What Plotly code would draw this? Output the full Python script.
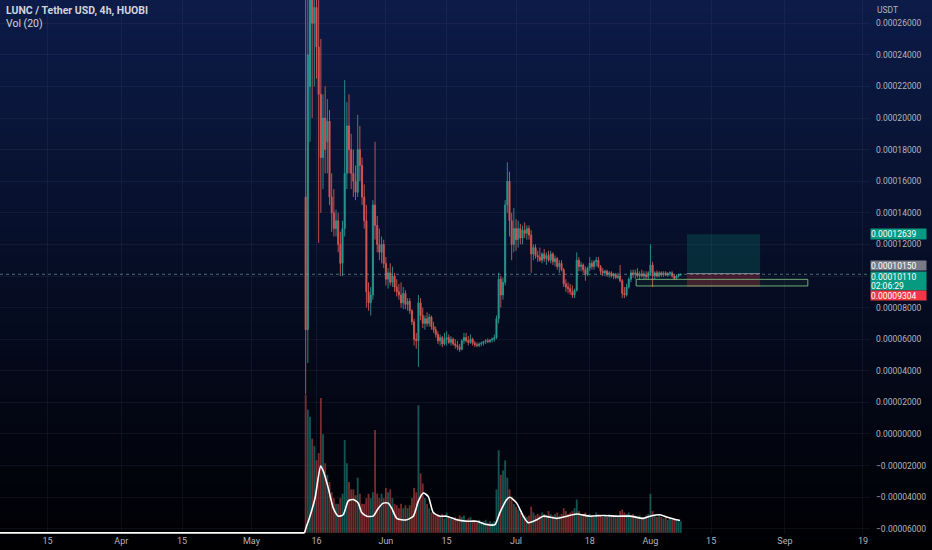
import plotly.graph_objects as go
import pandas as pd

# ---------------- data (prices in units of 1e-5 USDT) ----------------
start = "2022-05-13 12:00"   # first 12h candle
open_ = [15.0,6.6,22.0,28.0,26.0,27.0,24.5,21.5,17.5,20.0,
         18.5,19.8,15.0,14.0,13.0,13.5,12.0,10.8,13.0,16.5,
         19.5,18.0,16.5,16.0,15.3,18.0,17.0,15.0,13.5,9.0,
         8.3,8.8,14.5,13.2,12.0,11.5,12.0,10.8,9.8,10.2,
         9.6,10.0,9.3,9.0,8.8,8.3,8.9,8.2,8.4,7.8,
         7.1,6.0,5.9,8.3,7.5,7.0,7.3,7.0,7.4,6.8,
         6.6,6.3,5.9,6.1,5.7,6.0,6.1,5.8,6.0,5.7,
         5.6,5.5,5.35,5.9,6.1,5.9,5.8,6.0,5.75,5.65,
         5.6,5.7,5.75,5.85,5.9,5.85,5.95,6.0,6.1,7.3,
         9.8,8.8,9.6,14.5,16.0,13.5,12.0,13.0,12.3,13.0,
         12.4,12.9,12.7,13.0,12.6,11.4,11.8,11.3,11.2,11.0,
         11.4,11.1,11.3,11.0,11.4,10.9,11.1,10.6,10.8,10.4,
         9.5,9.3,9.2,9.0,8.8,9.1,11.0,10.6,10.7,10.4,
         10.1,10.5,10.8,10.6,10.9,11.0,10.6,10.3,10.2,10.3,
         10.1,10.2,10.0,10.1,9.9,10.0,9.7,8.9,8.8,9.3,
         9.8,10.2,10.1,10.2,10.0,10.15,10.0,10.1,9.95,10.2,
         10.7,10.0,10.2,10.0,10.2,10.1,10.2,10.05,10.15,10.2,
         10.0,9.85,10.0,10.1]
high_ = [33.8,35.0,36.0,38.0,34.0,33.0,28.0,25.0,21.5,22.0,
         21.2,20.5,16.5,15.5,14.2,14.0,12.8,13.5,22.4,21.0,
         21.5,19.0,18.0,17.0,20.2,19.5,17.5,15.8,14.5,9.6,
         9.3,14.8,18.5,13.8,13.0,12.5,12.3,11.2,10.5,10.8,
         10.6,10.2,9.8,9.5,9.6,9.3,9.1,8.6,8.6,7.9,
         7.3,6.4,8.8,8.6,8.0,7.5,7.7,7.6,7.5,7.1,
         6.8,6.5,6.3,6.2,6.4,6.5,6.3,6.2,6.1,6.0,
         5.9,5.7,6.0,6.4,6.4,6.2,6.3,6.1,5.9,5.8,
         5.8,5.85,5.9,6.0,6.05,6.0,6.1,6.3,7.5,10.2,
         10.0,9.9,14.8,17.2,16.6,14.0,14.3,13.6,13.5,13.3,
         13.2,13.4,13.2,13.2,12.9,12.0,12.0,11.6,11.8,11.5,
         11.7,11.5,11.6,11.6,11.5,11.3,11.2,11.0,11.0,10.5,
         9.8,9.6,9.5,9.4,9.2,11.5,11.2,10.9,10.8,10.6,
         10.6,11.2,11.0,11.0,11.2,11.2,10.7,10.5,10.4,10.4,
         10.3,10.3,10.2,10.2,10.2,10.7,9.8,9.3,9.5,9.9,
         10.4,10.4,10.4,10.5,10.3,10.4,10.3,10.3,10.3,12.0,
         10.9,10.3,10.35,10.3,10.3,10.3,10.3,10.25,10.3,10.3,
         10.1,10.1,10.15,10.15]
low_ = [2.5,4.5,18.5,20.0,22.0,22.5,12.1,14.0,15.5,16.5,
        16.5,14.5,12.8,12.5,12.5,11.5,10.0,10.0,12.5,15.5,
        16.5,15.5,15.0,14.8,15.0,16.0,14.5,13.0,8.0,7.8,
        7.5,8.5,12.3,11.5,11.0,10.8,10.5,9.4,9.2,9.4,
        9.3,9.0,8.7,8.5,8.0,7.9,7.9,7.8,7.6,6.9,
        5.6,5.4,4.25,7.2,6.7,6.6,6.8,6.8,6.6,6.4,
        6.1,5.7,5.6,5.5,5.6,5.6,5.7,5.6,5.6,5.4,
        5.3,5.2,5.3,5.7,5.8,5.6,5.7,5.6,5.5,5.5,
        5.5,5.55,5.6,5.7,5.75,5.75,5.8,5.85,6.0,7.0,
        8.0,8.5,9.4,14.0,12.5,11.0,11.5,11.6,11.8,12.0,
        12.0,12.4,12.3,12.3,10.2,11.0,11.1,10.9,10.9,10.8,
        10.9,10.7,10.9,10.8,10.7,10.6,10.4,10.2,10.3,9.3,
        9.0,8.9,8.8,8.6,8.6,9.0,10.3,10.3,10.2,9.7,
        10.0,10.3,10.4,10.4,10.6,10.5,10.1,10.0,10.0,9.95,
        9.9,9.9,9.8,9.8,9.8,9.6,8.6,8.6,8.7,9.2,
        9.6,9.9,9.8,9.9,9.8,9.9,9.8,9.8,9.8,10.0,
        9.3,9.8,9.9,9.9,9.95,9.95,10.0,9.95,10.0,9.9,
        9.75,9.8,9.9,10.0]
close_ = [6.6,24.0,28.0,26.0,27.0,24.5,21.5,17.5,20.0,18.0,
          19.8,15.0,14.0,13.0,13.5,12.0,10.8,13.0,16.5,19.5,
          18.0,16.5,16.0,15.3,18.0,17.0,15.0,13.5,9.0,8.3,
          8.8,14.5,13.2,12.0,11.5,12.0,10.8,9.8,10.2,9.6,
          10.0,9.3,9.0,8.8,8.3,8.9,8.2,8.4,7.8,7.1,
          6.0,5.9,8.3,7.5,7.0,7.3,7.0,7.4,6.8,6.6,
          6.3,5.9,6.1,5.7,6.0,6.1,5.8,6.0,5.7,5.6,
          5.5,5.35,5.9,6.1,5.9,5.8,6.0,5.75,5.65,5.6,
          5.7,5.75,5.85,5.9,5.85,5.95,6.0,6.1,7.3,9.8,
          8.8,9.6,14.5,16.0,13.5,12.0,13.0,12.3,13.0,12.4,
          12.9,12.7,13.0,12.6,11.4,11.8,11.3,11.2,11.0,11.4,
          11.1,11.3,11.0,11.4,10.9,11.1,10.6,10.8,10.4,9.5,
          9.3,9.2,9.0,8.8,9.1,11.0,10.6,10.7,10.4,10.1,
          10.5,10.8,10.6,10.9,11.0,10.6,10.3,10.2,10.3,10.1,
          10.2,10.0,10.1,9.9,10.0,9.7,8.9,8.8,9.3,9.8,
          10.2,10.1,10.2,10.0,10.15,10.0,10.1,9.95,10.2,10.7,
          10.0,10.2,10.0,10.2,10.1,10.2,10.05,10.15,10.2,10.0,
          9.85,10.0,10.1,10.11]
volume = [0.95,0.85,0.8,0.65,0.6,0.5,0.55,0.93,0.68,0.48,
          0.4,0.35,0.28,0.24,0.2,0.2,0.24,0.27,0.64,0.48,
          0.35,0.3,0.3,0.26,0.38,0.27,0.2,0.2,0.24,0.27,
          0.24,0.28,0.71,0.27,0.24,0.27,0.24,0.31,0.28,0.3,
          0.24,0.2,0.19,0.17,0.2,0.17,0.19,0.17,0.19,0.24,
          0.31,0.28,0.88,0.41,0.34,0.24,0.2,0.17,0.14,0.14,
          0.12,0.12,0.11,0.13,0.10,0.14,0.11,0.10,0.09,0.11,
          0.10,0.12,0.11,0.12,0.09,0.10,0.11,0.09,0.08,0.08,
          0.09,0.07,0.08,0.09,0.07,0.08,0.07,0.08,0.3,0.57,
          0.4,0.43,0.5,0.38,0.3,0.25,0.2,0.18,0.16,0.14,
          0.12,0.12,0.11,0.12,0.18,0.14,0.12,0.13,0.12,0.14,
          0.13,0.12,0.15,0.13,0.12,0.13,0.14,0.12,0.13,0.17,
          0.15,0.13,0.14,0.15,0.17,0.23,0.15,0.13,0.12,0.14,
          0.12,0.13,0.12,0.11,0.14,0.13,0.12,0.11,0.12,0.11,
          0.13,0.11,0.12,0.11,0.12,0.15,0.16,0.14,0.13,0.14,
          0.12,0.13,0.12,0.11,0.12,0.10,0.11,0.12,0.13,0.27,
          0.15,0.12,0.11,0.12,0.11,0.10,0.11,0.09,0.10,0.09,
          0.10,0.09,0.08,0.08]
ma_zero_dates = ["2022-03-01 00:00", "2022-05-13 06:00"]
ma_zero_vals = [0, 0]
ma_dates = ["2022-05-13 06:00","2022-05-13 18:00","2022-05-14 12:00","2022-05-15 16:00",
            "2022-05-16 23:00","2022-05-17 14:00","2022-05-18 17:00","2022-05-19 21:00","2022-05-21 01:00",
            "2022-05-22 04:00","2022-05-23 08:00","2022-05-24 12:00","2022-05-25 15:00","2022-05-26 10:00",
            "2022-05-27 14:00","2022-05-29 02:00","2022-05-30 06:00","2022-05-31 10:00","2022-06-01 13:00",
            "2022-06-02 08:00","2022-06-03 12:00","2022-06-04 16:00","2022-06-05 19:00","2022-06-07 08:00",
            "2022-06-08 12:00","2022-06-09 15:00","2022-06-10 19:00","2022-06-11 22:00","2022-06-13 12:00",
            "2022-06-15 00:00","2022-06-17 08:00","2022-06-19 15:00","2022-06-21 23:00","2022-06-24 06:00",
            "2022-06-26 04:00","2022-06-27 07:00","2022-06-28 21:00","2022-06-29 15:00","2022-07-01 04:00",
            "2022-07-02 16:00","2022-07-03 20:00","2022-07-05 19:00","2022-07-07 07:00","2022-07-10 09:00",
            "2022-07-12 17:00","2022-07-15 00:00","2022-07-18 01:00","2022-07-21 03:00","2022-07-24 05:00",
            "2022-07-27 07:00","2022-07-30 08:00","2022-07-31 22:00","2022-08-03 05:00","2022-08-04 18:00",
            "2022-08-07 01:00","2022-08-07 20:00"]
ma_vals = [0,0.05,0.115,0.24,0.46,0.425,0.31,0.17,0.115,
           0.125,0.22,0.23,0.205,0.14,0.115,0.115,0.17,0.205,0.205,
           0.17,0.10,0.09,0.09,0.115,0.22,0.275,0.25,0.14,0.115,
           0.115,0.09,0.08,0.08,0.057,0.057,0.14,0.23,0.245,0.205,
           0.115,0.07,0.09,0.115,0.10,0.115,0.13,0.115,0.12,0.115,
           0.115,0.10,0.115,0.125,0.11,0.09,0.085]

price_ticks = [-6, -4, -2, 0, 2, 4, 6, 8, 10, 12, 14, 16, 18, 20, 22, 24, 26]
hidden_tick = 10   # covered by the price tags in the reference
x_tickvals = ["2022-03-15","2022-04-01","2022-04-15","2022-05-01","2022-05-16","2022-06-01","2022-06-15",
              "2022-07-01","2022-07-18","2022-08-01","2022-08-15","2022-09-01","2022-09-19"]
x_ticktext = ["15","Apr","15","May","16","Jun","15","Jul","18","Aug","15","Sep","19"]

last_price = 10.110
entry_price = 10.150
target_price = 12.639
stop_price = 9.304
zone_top, zone_bottom = 9.79, 9.37
countdown = "02:06:29"

S = 1e-5
times = pd.date_range(start, periods=len(close_), freq="12h")
o = [v * S for v in open_]; h = [v * S for v in high_]
l = [v * S for v in low_]; c = [v * S for v in close_]


def fmt_price(v):
    s = "%.8f" % abs(v * S)
    return ("\u2212" + s) if v < 0 else s


y_ticktext = ["" if v == hidden_tick else fmt_price(v) for v in price_ticks]

UP, DN = "#2fa79a", "#ee5f58"
vol_colors = ["rgba(38,166,154,0.5)" if cc >= oo else "rgba(239,83,80,0.5)" for oo, cc in zip(open_, close_)]

fig = go.Figure()

fig.add_trace(go.Bar(x=times, y=volume, marker=dict(color=vol_colors, line=dict(width=0)),
                     yaxis="y2", showlegend=False, hoverinfo="skip"))
fig.add_trace(go.Scatter(x=pd.to_datetime(ma_zero_dates, format="%Y-%m-%d %H:%M"), y=ma_zero_vals,
                         mode="lines", yaxis="y2", line=dict(color="#ffffff", width=1.6),
                         showlegend=False, hoverinfo="skip"))
fig.add_trace(go.Scatter(x=pd.to_datetime(ma_dates, format="%Y-%m-%d %H:%M"), y=ma_vals, mode="lines", yaxis="y2",
                         line=dict(color="#ffffff", width=1.6, shape="spline", smoothing=0.6),
                         showlegend=False, hoverinfo="skip"))
fig.add_trace(go.Candlestick(x=times, open=o, high=h, low=l, close=c,
                             increasing=dict(line=dict(color=UP, width=0.9), fillcolor=UP),
                             decreasing=dict(line=dict(color=DN, width=0.9), fillcolor=DN),
                             whiskerwidth=0, opacity=0.9, showlegend=False))

# ---- background gradient (navy -> black) ----
shapes = []
nb = 110
top_rgb = (12, 27, 72)
bot_rgb = (0, 0, 2)
y_lo, y_hi = -0.04, 1.0
for k in range(nb):
    t = k / (nb - 1)
    col = tuple(int(round(top_rgb[j] + (bot_rgb[j] - top_rgb[j]) * t)) for j in range(3))
    y1 = y_hi - (y_hi - y_lo) * k / nb
    y0 = y_hi - (y_hi - y_lo) * (k + 1) / nb
    shapes.append(dict(type="rect", xref="paper", yref="paper", x0=-0.01, x1=1.08, y0=y0 - 0.002, y1=y1,
                       fillcolor="rgb(%d,%d,%d)" % col, line=dict(width=0), layer="below"))

# position tool + zone
shapes += [
    dict(type="rect", xref="x", yref="y", x0="2022-08-09 10:00", x1="2022-08-26 07:00",
         y0=entry_price * S, y1=target_price * S, fillcolor="rgba(8,153,129,0.22)", line=dict(width=0)),
    dict(type="rect", xref="x", yref="y", x0="2022-08-09 10:00", x1="2022-08-26 07:00",
         y0=stop_price * S, y1=entry_price * S, fillcolor="rgba(242,54,69,0.25)", line=dict(width=0)),
    dict(type="line", xref="x", yref="y", x0="2022-08-09 10:00", x1="2022-08-26 07:00",
         y0=entry_price * S, y1=entry_price * S, line=dict(color="rgba(180,180,190,0.7)", width=1)),
    dict(type="rect", xref="x", yref="y", x0="2022-07-28 17:00", x1="2022-09-06 07:00",
         y0=zone_bottom * S, y1=zone_top * S, fillcolor="rgba(76,175,80,0.08)",
         line=dict(color="rgba(129,199,132,0.85)", width=1)),
    dict(type="line", xref="paper", yref="y", x0=0, x1=1, y0=last_price * S, y1=last_price * S,
         line=dict(color="rgba(120,175,170,0.6)", width=1, dash="dot")),
]

GRID = "rgba(130,140,170,0.09)"
TXT = "#b2b5be"
FONT = "Roboto, Liberation Sans, sans-serif"

fig.update_layout(
    width=932, height=550,
    margin=dict(l=0, r=62, t=0, b=16),
    paper_bgcolor="#000000", plot_bgcolor="rgba(0,0,0,0)",
    font=dict(family=FONT, color=TXT, size=9),
    bargap=0.15,
    shapes=shapes,
    xaxis=dict(type="date", range=["2022-03-04 00:30", "2022-09-20 15:00"],
               tickvals=x_tickvals, ticktext=x_ticktext, showgrid=True, gridcolor=GRID,
               zeroline=False, showline=False, ticks="", rangeslider=dict(visible=False),
               tickfont=dict(size=9, color=TXT), automargin=False),
    yaxis=dict(side="right", range=[-6.33 * S, 27.47 * S],
               tickvals=[v * S for v in price_ticks], ticktext=y_ticktext,
               showgrid=True, gridcolor=GRID, zeroline=False, showline=False, ticks="",
               tickfont=dict(size=8.5, color=TXT), ticklabelstandoff=5, automargin=False),
    yaxis2=dict(overlaying="y", range=[-0.008, 3.675], visible=False, showgrid=False),
    hovermode=False,
)

ann = [
    dict(text="<b>LUNC / Tether USD, 4h, HUOBI</b>", xref="paper", yref="paper", x=0, y=1,
         xanchor="left", yanchor="top", xshift=4, yshift=-2, showarrow=False,
         font=dict(size=10.5, color="#d1d4dc")),
    dict(text="Vol (20)", xref="paper", yref="paper", x=0, y=1,
         xanchor="left", yanchor="top", xshift=4, yshift=-15, showarrow=False,
         font=dict(size=10.5, color="#d1d4dc")),
    dict(text="USDT", xref="paper", yref="paper", x=1, y=1, xanchor="left", yanchor="top",
         xshift=5, yshift=-3, showarrow=False, font=dict(size=8.5, color=TXT)),
]
# (text, anchor value, colour, vertical shift in px, box height in px)
tags = [
    (fmt_price(target_price), target_price, "#089981", 0, 10),
    (fmt_price(entry_price), entry_price, "#787b86", 8.5, 9),
    (fmt_price(last_price), last_price, "#089981", -2.2, 9),
    (countdown, last_price, "#089981", -11.2, 9),
    (fmt_price(stop_price), stop_price, "#f23645", -8, 9),
]
for txt, val, col, ys, hh in tags:
    ann.append(dict(text=txt, xref="paper", yref="y", x=1, y=val * S, xanchor="left", yanchor="middle",
                    xshift=0, yshift=ys, showarrow=False, bgcolor=col, borderpad=0, width=55, height=hh,
                    align="left", valign="middle", font=dict(size=8.5, color="#ffffff")))
fig.update_layout(annotations=ann)

fig.write_html("out.html", config={"displayModeBar": False},
               post_script="document.body.style.margin='0';document.body.style.overflow='hidden';")
